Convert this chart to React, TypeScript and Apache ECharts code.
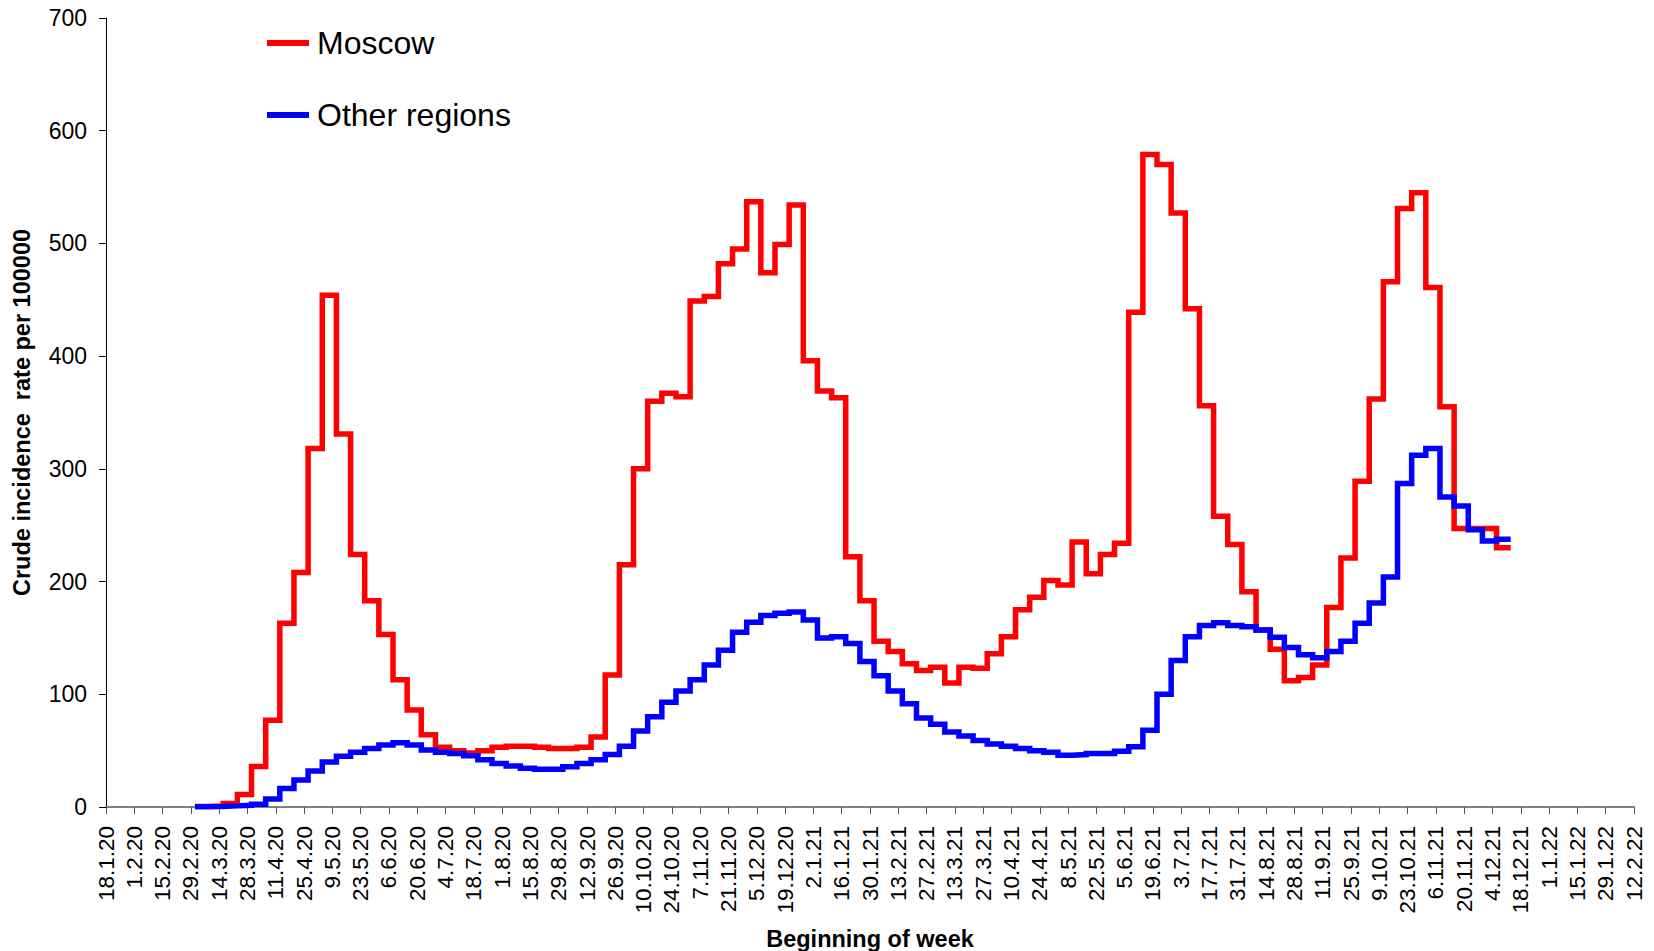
import React, { useEffect, useRef } from "react";
import * as echarts from "echarts";

const tickLabels = [
  "18.1.20", "1.2.20", "15.2.20", "29.2.20", "14.3.20", "28.3.20", "11.4.20", "25.4.20", "9.5.20", "23.5.20",
  "6.6.20", "20.6.20", "4.7.20", "18.7.20", "1.8.20", "15.8.20", "29.8.20", "12.9.20", "26.9.20", "10.10.20",
  "24.10.20", "7.11.20", "21.11.20", "5.12.20", "19.12.20", "2.1.21", "16.1.21", "30.1.21", "13.2.21", "27.2.21",
  "13.3.21", "27.3.21", "10.4.21", "24.4.21", "8.5.21", "22.5.21", "5.6.21", "19.6.21", "3.7.21", "17.7.21",
  "31.7.21", "14.8.21", "28.8.21", "11.9.21", "25.9.21", "9.10.21", "23.10.21", "6.11.21", "20.11.21", "4.12.21",
  "18.12.21", "1.1.22", "15.1.22", "29.1.22", "12.2.22",
];

// first data week (weeks begin on Monday)
const firstWeek = "2.3.20";

const moscow = [
  0.5, 1, 3, 11, 36, 77, 163, 208, 318, 454,
  331, 224, 183, 153, 113, 86, 64, 53, 50, 48,
  50, 53, 54, 54, 53, 52, 52, 53, 62, 117,
  215, 300, 360, 367, 364, 449, 453, 482, 495, 537,
  474, 499, 534, 396, 369, 363, 222, 183, 147, 138,
  127, 121, 124, 110, 124, 123, 136, 151, 175, 186,
  201, 197, 235, 207, 224, 234, 439, 579, 570, 527,
  442, 356, 258, 233, 191, 157, 140, 112, 115, 126,
  177, 221, 289, 362, 466, 531, 545, 461, 355, 247,
  247, 247, 230,
];

const otherRegions = [
  0.3, 0.5, 1, 1.5, 2.5, 7, 16.5, 24, 32, 40,
  45, 48.5, 52, 55, 57, 55, 50.5, 48.5, 47.5, 45.5,
  42, 38.7, 36.3, 34.3, 33.4, 33.4, 35.8, 38.7, 42, 46.5,
  54, 67.5, 80, 93, 103, 113, 126, 139, 155, 164,
  170, 172, 173, 166, 150, 151, 145, 129, 116.5, 103,
  91.5, 79, 73.5, 66.5, 63, 59, 56, 54, 52, 50,
  48.5, 46, 46.5, 47.5, 47.5, 49.5, 53.5, 68, 100, 130,
  151, 161, 163.5, 161, 160, 157, 150.5, 141.5, 135, 132.5,
  138, 147, 163, 181, 204, 287, 312, 318, 275, 267,
  246, 236, 237.5,
];

const seriesNames = ["Moscow", "Other regions"];

const DAY = 86400000;
function parseDate(s: string): number {
  const [d, m, y] = s.split(".").map(Number);
  return Date.UTC(2000 + y, m - 1, d);
}
const axisStart = parseDate(tickLabels[0]);
const axisDays = (parseDate(tickLabels[tickLabels.length - 1]) - axisStart) / DAY;
const firstWeekDay = (parseDate(firstWeek) - axisStart) / DAY;

function stepData(values: number[]) {
  const pts = values.map((v, i) => [firstWeekDay + 7 * i, v]);
  // close the last week
  pts.push([firstWeekDay + 7 * values.length, values[values.length - 1]]);
  return pts;
}

const FONT = "'Liberation Sans', Arial, Helvetica, sans-serif";

export default function App() {
  const ref = useRef<HTMLDivElement>(null);
  useEffect(() => {
    document.body.style.margin = "0";
    const chart = echarts.init(ref.current!, undefined, { renderer: "svg" });
    chart.setOption({
      animation: false,
      backgroundColor: "#ffffff",
      textStyle: { fontFamily: FONT },
      grid: {
        left: 106,
        right: 20,
        top: 18,
        bottom: 144,
        containLabel: false,
        outerBoundsMode: "none",
      },
      legend: {
        data: seriesNames,
        orient: "vertical",
        left: 262,
        top: 22,
        itemGap: 40,
        itemWidth: 42,
        itemHeight: 6,
        icon: "rect",
        textStyle: { fontSize: 32, color: "#000", fontFamily: FONT, padding: [0, 0, 0, 3] },
      },
      xAxis: {
        type: "value",
        min: 0,
        max: axisDays,
        interval: 14,
        name: "Beginning of week",
        nameLocation: "middle",
        nameGap: 120,
        nameTextStyle: { fontSize: 23.5, fontWeight: "bold", color: "#000", fontFamily: FONT },
        axisLine: { show: true, lineStyle: { color: "#808080", width: 2 } },
        axisTick: { show: true, length: 7, lineStyle: { color: "#555", width: 1 } },
        splitLine: { show: false },
        axisLabel: {
          rotate: 90,
          margin: 19,
          fontSize: 22.5,
          color: "#000",
          fontFamily: FONT,
          formatter: (v: number) => tickLabels[Math.round(v / 14)] ?? "",
        },
      },
      yAxis: {
        type: "value",
        min: 0,
        max: 700,
        interval: 100,
        name: "Crude incidence  rate per 100000",
        nameLocation: "middle",
        nameRotate: 90,
        nameGap: 72,
        nameTextStyle: { fontSize: 23.5, fontWeight: "bold", color: "#000", fontFamily: FONT },
        axisLine: { show: true, lineStyle: { color: "#000", width: 1 } },
        axisTick: { show: true, length: 7, lineStyle: { color: "#000", width: 1 } },
        splitLine: { show: false },
        axisLabel: { margin: 19, fontSize: 23, color: "#000", fontFamily: FONT },
      },
      series: [
        {
          name: seriesNames[0],
          type: "line",
          step: "end",
          data: stepData(moscow),
          showSymbol: false,
          symbol: "none",
          itemStyle: { color: "#ff0000" },
          lineStyle: { color: "#ff0000", width: 5.5, join: "miter" },
        },
        {
          name: seriesNames[1],
          type: "line",
          step: "end",
          data: stepData(otherRegions),
          showSymbol: false,
          symbol: "none",
          itemStyle: { color: "#0000ff" },
          lineStyle: { color: "#0000ff", width: 5.5, join: "miter" },
        },
      ],
    });
    return () => chart.dispose();
  }, []);
  return <div ref={ref} style={{ width: 1654, height: 951 }} />;
}
